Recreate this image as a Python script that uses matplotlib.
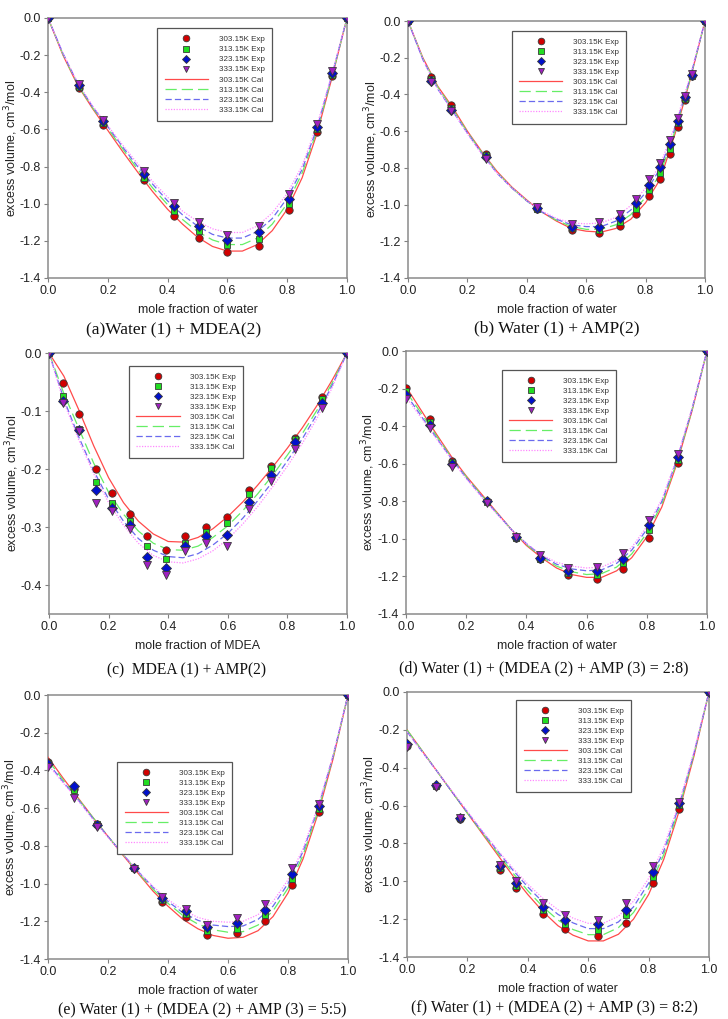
import numpy as np
import matplotlib
matplotlib.use("Agg")
from matplotlib import pyplot as plt

plt.rcParams['font.family'] = ['Liberation Sans', 'DejaVu Sans']
plt.rcParams['axes.unicode_minus'] = False

# temperatures used in every panel
temps = ['303.15K', '313.15K', '323.15K', '333.15K']

# calculated curves are read on this mole fraction grid
cal_x = [0, 0.05, 0.1, 0.15, 0.2, 0.25, 0.3, 0.35, 0.4, 0.45, 0.5,
         0.55, 0.6, 0.65, 0.7, 0.75, 0.8, 0.85, 0.9, 0.95, 1.0]

# (a) Water + MDEA
a_x = [0, 0.105, 0.185, 0.32, 0.42, 0.505, 0.6, 0.705, 0.805, 0.9, 0.95, 1.0]
a_303 = [0, -0.377, -0.578, -0.874, -1.068, -1.183, -1.26, -1.228, -1.034, -0.614, -0.31, 0]
a_313 = [0, -0.37, -0.565, -0.86, -1.04, -1.149, -1.224, -1.19, -1.0, -0.6, -0.305, 0]
a_323 = [0, -0.36, -0.555, -0.84, -1.014, -1.122, -1.194, -1.153, -0.975, -0.587, -0.298, 0]
a_333 = [0, -0.355, -0.547, -0.822, -0.996, -1.099, -1.167, -1.122, -0.946, -0.57, -0.284, 0]
a_cal_303 = [0, -0.2, -0.365, -0.49, -0.605, -0.72, -0.83, -0.935, -1.03, -1.11, -1.18, -1.23, -1.255, -1.255, -1.22, -1.145, -1.03, -0.86, -0.62, -0.32, 0]
a_cal_313 = [0, -0.195, -0.36, -0.485, -0.595, -0.705, -0.815, -0.915, -1.005, -1.085, -1.15, -1.195, -1.22, -1.22, -1.185, -1.11, -1.0, -0.835, -0.605, -0.315, 0]
a_cal_323 = [0, -0.19, -0.355, -0.48, -0.585, -0.695, -0.8, -0.895, -0.985, -1.06, -1.12, -1.165, -1.185, -1.185, -1.15, -1.08, -0.97, -0.815, -0.59, -0.305, 0]
a_cal_333 = [0, -0.19, -0.35, -0.475, -0.58, -0.685, -0.785, -0.88, -0.965, -1.04, -1.095, -1.135, -1.155, -1.155, -1.12, -1.05, -0.945, -0.795, -0.575, -0.3, 0]

# (b) Water + AMP
b_x = [0, 0.079, 0.146, 0.263, 0.433, 0.553, 0.643, 0.714, 0.767, 0.813, 0.848, 0.882, 0.908, 0.933, 0.955, 1.0]
b_303 = [0, -0.304, -0.46, -0.725, -1.025, -1.136, -1.153, -1.118, -1.053, -0.955, -0.858, -0.722, -0.576, -0.431, -0.3, 0]
b_313 = [0, -0.315, -0.475, -0.73, -1.025, -1.13, -1.14, -1.095, -1.022, -0.922, -0.827, -0.698, -0.558, -0.425, -0.298, 0]
b_323 = [0, -0.325, -0.485, -0.74, -1.02, -1.12, -1.122, -1.071, -0.989, -0.891, -0.798, -0.671, -0.544, -0.415, -0.295, 0]
b_333 = [0, -0.331, -0.49, -0.751, -1.015, -1.104, -1.096, -1.049, -0.967, -0.862, -0.773, -0.649, -0.531, -0.409, -0.29, 0]
b_cal_303 = [0, -0.2, -0.355, -0.47, -0.6, -0.715, -0.82, -0.905, -0.975, -1.04, -1.09, -1.13, -1.145, -1.15, -1.13, -1.08, -0.99, -0.86, -0.61, -0.32, 0]
b_cal_313 = [0, -0.205, -0.36, -0.48, -0.605, -0.72, -0.825, -0.91, -0.98, -1.04, -1.085, -1.12, -1.135, -1.135, -1.11, -1.055, -0.96, -0.83, -0.595, -0.315, 0]
b_cal_323 = [0, -0.21, -0.37, -0.49, -0.61, -0.725, -0.83, -0.91, -0.98, -1.04, -1.08, -1.11, -1.12, -1.12, -1.09, -1.03, -0.935, -0.8, -0.58, -0.31, 0]
b_cal_333 = [0, -0.21, -0.37, -0.49, -0.615, -0.73, -0.83, -0.91, -0.98, -1.035, -1.075, -1.1, -1.105, -1.1, -1.07, -1.005, -0.91, -0.78, -0.565, -0.3, 0]

# (c) MDEA + AMP
c_x = [0, 0.048, 0.101, 0.157, 0.213, 0.272, 0.33, 0.392, 0.458, 0.526, 0.597, 0.67, 0.745, 0.826, 0.916, 1.0]
c_303 = [0, -0.052, -0.105, -0.2, -0.241, -0.278, -0.316, -0.339, -0.316, -0.3, -0.283, -0.237, -0.194, -0.146, -0.076, 0]
c_313 = [0, -0.074, -0.131, -0.222, -0.259, -0.29, -0.333, -0.355, -0.328, -0.309, -0.293, -0.243, -0.198, -0.149, -0.079, 0]
c_323 = [0, -0.082, -0.132, -0.237, -0.267, -0.297, -0.352, -0.37, -0.333, -0.316, -0.313, -0.257, -0.21, -0.154, -0.086, 0]
c_333 = [0, -0.086, -0.135, -0.259, -0.273, -0.303, -0.366, -0.383, -0.342, -0.328, -0.332, -0.269, -0.221, -0.166, -0.095, 0]
c_cal_303 = [0, -0.04, -0.098, -0.16, -0.215, -0.258, -0.29, -0.312, -0.325, -0.326, -0.318, -0.303, -0.282, -0.257, -0.228, -0.197, -0.164, -0.129, -0.09, -0.047, 0]
c_cal_313 = [0, -0.07, -0.13, -0.19, -0.24, -0.278, -0.307, -0.328, -0.339, -0.34, -0.333, -0.318, -0.298, -0.272, -0.243, -0.211, -0.176, -0.139, -0.098, -0.052, 0]
c_cal_323 = [0, -0.08, -0.145, -0.203, -0.252, -0.29, -0.32, -0.34, -0.351, -0.353, -0.346, -0.331, -0.311, -0.285, -0.255, -0.222, -0.186, -0.148, -0.105, -0.056, 0]
c_cal_333 = [0, -0.085, -0.15, -0.208, -0.258, -0.297, -0.328, -0.349, -0.36, -0.362, -0.355, -0.341, -0.321, -0.295, -0.265, -0.231, -0.195, -0.156, -0.112, -0.06, 0]

# (d) Water + (MDEA + AMP = 2:8)
d_x = [0, 0.081, 0.152, 0.27, 0.367, 0.444, 0.538, 0.633, 0.722, 0.808, 0.903, 1.0]
d_303 = [-0.195, -0.363, -0.585, -0.8, -0.995, -1.105, -1.193, -1.213, -1.16, -0.993, -0.594, 0]
d_313 = [-0.214, -0.38, -0.59, -0.805, -0.995, -1.105, -1.184, -1.193, -1.128, -0.954, -0.578, 0]
d_323 = [-0.232, -0.395, -0.6, -0.8, -0.99, -1.1, -1.172, -1.17, -1.105, -0.927, -0.564, 0]
d_333 = [-0.255, -0.408, -0.617, -0.81, -0.99, -1.087, -1.154, -1.152, -1.074, -0.9, -0.546, 0]
d_cal_303 = [-0.19, -0.315, -0.44, -0.56, -0.665, -0.76, -0.855, -0.95, -1.035, -1.1, -1.155, -1.19, -1.205, -1.205, -1.17, -1.1, -0.99, -0.83, -0.6, -0.32, 0]
d_cal_313 = [-0.215, -0.33, -0.45, -0.565, -0.67, -0.765, -0.86, -0.95, -1.03, -1.095, -1.145, -1.175, -1.19, -1.185, -1.15, -1.08, -0.97, -0.815, -0.59, -0.315, 0]
d_cal_323 = [-0.23, -0.345, -0.46, -0.57, -0.675, -0.77, -0.86, -0.95, -1.025, -1.09, -1.135, -1.16, -1.17, -1.165, -1.13, -1.06, -0.95, -0.8, -0.58, -0.31, 0]
d_cal_333 = [-0.245, -0.355, -0.465, -0.575, -0.68, -0.775, -0.865, -0.95, -1.025, -1.085, -1.125, -1.145, -1.155, -1.15, -1.115, -1.045, -0.935, -0.79, -0.57, -0.305, 0]

# (e) Water + (MDEA + AMP = 5:5)
e_x = [0, 0.088, 0.163, 0.286, 0.379, 0.459, 0.529, 0.631, 0.724, 0.813, 0.902, 1.0]
e_303 = [-0.355, -0.5, -0.686, -0.92, -1.097, -1.177, -1.274, -1.261, -1.198, -1.005, -0.622, 0]
e_313 = [-0.358, -0.505, -0.682, -0.92, -1.088, -1.163, -1.251, -1.239, -1.168, -0.977, -0.606, 0]
e_323 = [-0.365, -0.482, -0.687, -0.918, -1.074, -1.147, -1.23, -1.208, -1.138, -0.951, -0.59, 0]
e_333 = [-0.38, -0.544, -0.7, -0.922, -1.07, -1.133, -1.218, -1.185, -1.11, -0.92, -0.576, 0]
e_cal_303 = [-0.33, -0.44, -0.545, -0.65, -0.75, -0.85, -0.945, -1.04, -1.12, -1.19, -1.24, -1.275, -1.29, -1.285, -1.25, -1.175, -1.05, -0.87, -0.63, -0.34, 0]
e_cal_313 = [-0.345, -0.45, -0.55, -0.65, -0.75, -0.845, -0.94, -1.03, -1.105, -1.17, -1.215, -1.245, -1.258, -1.255, -1.22, -1.145, -1.025, -0.85, -0.615, -0.33, 0]
e_cal_323 = [-0.36, -0.46, -0.555, -0.655, -0.75, -0.845, -0.935, -1.02, -1.095, -1.155, -1.195, -1.22, -1.228, -1.225, -1.19, -1.12, -1.0, -0.83, -0.6, -0.325, 0]
e_cal_333 = [-0.37, -0.465, -0.56, -0.66, -0.755, -0.845, -0.935, -1.015, -1.085, -1.14, -1.18, -1.2, -1.205, -1.2, -1.165, -1.095, -0.98, -0.815, -0.59, -0.32, 0]

# (f) Water + (MDEA + AMP = 8:2)
f_x = [0, 0.096, 0.175, 0.307, 0.362, 0.451, 0.523, 0.633, 0.726, 0.815, 0.9, 1.0]
f_303 = [-0.283, -0.497, -0.67, -0.942, -1.037, -1.171, -1.251, -1.291, -1.221, -1.009, -0.618, 0]
f_313 = [-0.28, -0.495, -0.665, -0.93, -1.025, -1.154, -1.224, -1.256, -1.18, -0.977, -0.597, 0]
f_323 = [-0.276, -0.493, -0.665, -0.92, -1.01, -1.136, -1.203, -1.224, -1.15, -0.951, -0.585, 0]
f_333 = [-0.288, -0.5, -0.665, -0.912, -0.998, -1.113, -1.18, -1.203, -1.115, -0.92, -0.58, 0]
f_cal_303 = [-0.2, -0.31, -0.42, -0.53, -0.64, -0.75, -0.86, -0.97, -1.07, -1.16, -1.235, -1.285, -1.315, -1.315, -1.28, -1.2, -1.07, -0.885, -0.635, -0.34, 0]
f_cal_313 = [-0.2, -0.31, -0.42, -0.53, -0.64, -0.745, -0.85, -0.955, -1.05, -1.135, -1.205, -1.255, -1.282, -1.282, -1.245, -1.165, -1.04, -0.86, -0.62, -0.33, 0]
f_cal_323 = [-0.21, -0.315, -0.42, -0.53, -0.635, -0.74, -0.84, -0.94, -1.03, -1.11, -1.175, -1.22, -1.25, -1.25, -1.215, -1.135, -1.01, -0.84, -0.605, -0.325, 0]
f_cal_333 = [-0.21, -0.315, -0.42, -0.525, -0.63, -0.735, -0.835, -0.93, -1.015, -1.09, -1.15, -1.195, -1.222, -1.222, -1.185, -1.105, -0.985, -0.82, -0.59, -0.315, 0]

captions = ['(a)Water (1) + MDEA(2)', '(b) Water (1) + AMP(2)', '(c)  MDEA (1) + AMP(2)',
            '(d) Water (1) + (MDEA (2) + AMP (3) = 2:8)',
            '(e) Water (1) + (MDEA (2) + AMP (3) = 5:5)',
            '(f) Water (1) + (MDEA (2) + AMP (3) = 8:2)']
xlabels = ['mole fraction of water', 'mole fraction of water', 'mole fraction of MDEA',
           'mole fraction of water', 'mole fraction of water', 'mole fraction of water']

# marker / line styles per temperature
mk = ['o', 's', 'D', 'v']
mk_size = [5.3, 4.9, 4.6, 5.4]
mk_face = ['#d10000', '#22dd22', '#0010cc', '#a020c0']
ln_color = ['#ff4a4a', '#66ee66', '#6a6aee', '#ff88ff']
ln_dash = [(None, None), (9, 4), (5, 2.5), (1, 1.2)]


def fmt(v, pos):
    s = '%.1f' % v
    return '0.0' if s == '-0.0' else s


W, H = 728, 1019
fig = plt.figure(figsize=(W / 100, H / 100), dpi=100)

# axes boxes in pixels: left, top, right, bottom
boxes = [(48, 18, 347, 278), (408, 21, 705, 278),
         (49, 353, 347, 614), (406, 351, 707, 614),
         (48, 695, 348, 959), (407, 692, 709, 957)]
leg_pos = [(0.366, 0.96), (0.349, 0.961), (0.268, 0.951), (0.318, 0.928), (0.231, 0.747), (0.362, 0.97)]
cap_pos = [(174, 330, 12.5), (557, 328, 12.5), (187, 670, 11.2), (544, 668, 11.5), (202, 1010, 11.5), (554, 1008, 11.5)]

exp_sets = [(a_x, [a_303, a_313, a_323, a_333]), (b_x, [b_303, b_313, b_323, b_333]),
            (c_x, [c_303, c_313, c_323, c_333]), (d_x, [d_303, d_313, d_323, d_333]),
            (e_x, [e_303, e_313, e_323, e_333]), (f_x, [f_303, f_313, f_323, f_333])]
cal_sets = [[a_cal_303, a_cal_313, a_cal_323, a_cal_333], [b_cal_303, b_cal_313, b_cal_323, b_cal_333],
            [c_cal_303, c_cal_313, c_cal_323, c_cal_333], [d_cal_303, d_cal_313, d_cal_323, d_cal_333],
            [e_cal_303, e_cal_313, e_cal_323, e_cal_333], [f_cal_303, f_cal_313, f_cal_323, f_cal_333]]

for i in range(6):
    l, t, r, b = boxes[i]
    ax = fig.add_axes([l / W, 1 - b / H, (r - l) / W, (b - t) / H])
    xe, ys = exp_sets[i]
    handles = []
    for k in range(4):
        h, = ax.plot(xe, ys[k], linestyle='none', marker=mk[k], ms=mk_size[k],
                     mfc=mk_face[k], mec='#3a3a3a', mew=0.6, zorder=4,
                     label=temps[k] + ' Exp')
        handles.append(h)
    for k in range(4):
        h, = ax.plot(cal_x, cal_sets[i][k], color=ln_color[k], lw=0.9, zorder=3,
                     label=temps[k] + ' Cal')
        if k > 0:
            h.set_dashes(ln_dash[k])
        handles.append(h)

    ax.set_xlim(0, 1)
    ax.set_xticks(np.arange(0, 1.01, 0.2))
    if i == 2:
        ax.set_ylim(-0.45, 0)
        ax.set_yticks(np.arange(-0.4, 0.01, 0.1))
    else:
        ax.set_ylim(-1.4, 0)
        ax.set_yticks(np.arange(-1.4, 0.01, 0.2))
    ax.xaxis.set_major_formatter(matplotlib.ticker.FuncFormatter(fmt))
    ax.yaxis.set_major_formatter(matplotlib.ticker.FuncFormatter(fmt))
    ax.tick_params(direction='out', length=3, width=0.8, color='#808080',
                   labelsize=9, labelcolor='#222222', pad=2)
    for sp in ax.spines.values():
        sp.set_color('#8a8a8a')
        sp.set_linewidth(1.1)
    ax.set_facecolor('white')

    ax.set_xlabel(xlabels[i], fontsize=9, color='#222222')
    ax.xaxis.set_label_coords(0.5, -0.1)
    ax.set_ylabel('excess volume, cm$^3$/mol', fontsize=9, color='#222222')
    ax.yaxis.set_label_coords(-0.095, 0.5)

    leg = ax.legend(handles=handles, loc='upper left', bbox_to_anchor=leg_pos[i],
                    borderaxespad=0, fontsize=5.8, handlelength=5.4, handletextpad=1.3,
                    labelspacing=0.3, borderpad=0.9, fancybox=False, framealpha=1,
                    edgecolor='#555555', markerfirst=True, markerscale=0.9)
    leg.get_frame().set_linewidth(0.9)
    for txt in leg.get_texts():
        txt.set_color('#333333')

    cx, cy, fs = cap_pos[i]
    fig.text(cx / W, 1 - cy / H, captions[i], ha='center', va='center',
             fontsize=fs, family='Liberation Serif', color='#111111')

fig.savefig('out.png', dpi=100)
